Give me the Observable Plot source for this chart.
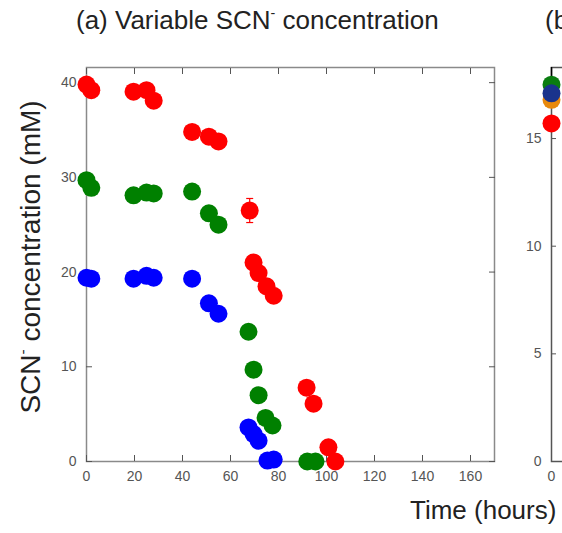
<!DOCTYPE html>
<html>
<head>
<meta charset="utf-8">
<script src="https://cdn.jsdelivr.net/npm/d3@7"></script>
<script src="https://cdn.jsdelivr.net/npm/@observablehq/plot@0.6"></script>
<style>
  body { margin: 0; background: #fff; }
  #fig { position: relative; width: 562px; height: 533px; overflow: hidden; background: #fff;
         font-family: "Liberation Sans", Arial, sans-serif; color: #222; }
  .abs { position: absolute; white-space: nowrap; line-height: 1; }
  .abs svg { display: block; max-width: none !important; }
  sup { font-size: 0.55em; vertical-align: 0.75em; line-height: 0; }
</style>
</head>
<body>
<div id="fig"></div>
<script>
// ---- data ----
const xTicks = [0, 20, 40, 60, 80, 100, 120, 140, 160];
const yTicksA = [0, 10, 20, 30, 40];
const yTicksB = [0, 5, 10, 15];

// Panel (a): 40 mM series (red)
const redTime = [0, 2, 19.6, 25, 28, 44, 51, 55, 68, 69.6, 71.7, 75, 78, 91.7, 94.6, 100.8, 103.7];
const redConc = [39.8, 39.2, 39.05, 39.2, 38.1, 34.8, 34.3, 33.8, 26.5, 21.0, 19.9, 18.5, 17.5, 7.8, 6.1, 1.5, 0];
const redErr  = [0, 0, 0, 0, 0, 0, 0, 0, 1.27, 0, 0, 0, 0, 0, 0, 0, 0];
// 30 mM series (green)
const greenTime = [0, 2, 19.6, 25, 28, 44, 51, 55, 67.5, 69.6, 71.7, 74.6, 77.5, 92, 95.4];
const greenConc = [29.7, 28.9, 28.1, 28.4, 28.3, 28.5, 26.2, 25.0, 13.7, 9.7, 7.0, 4.6, 3.8, 0, 0];
// 20 mM series (blue)
const blueTime = [0, 2, 19.6, 25, 28, 44, 51, 55, 67.5, 69.6, 71.7, 75.4, 78];
const blueConc = [19.4, 19.3, 19.3, 19.6, 19.4, 19.3, 16.7, 15.6, 3.6, 2.9, 2.2, 0.1, 0.2];

// Panel (b): only the first points are visible at the edge
const seriesB = ["black", "green", "orange", "blue", "red"];
const timeB = [0, 0, 0, 0, 0];
const concB = [17.7, 17.5, 16.8, 17.1, 15.7];
const errB  = [0.6, 0, 0.4, 0, 0];

// ---- styling ----
const colors = { red: "#ff0000", green: "#008000", blue: "#0000ff" };
const colorB = { black: "#000000", green: "#0a7d10", orange: "#e8890c", blue: "#1a338c", red: "#ff0000" };
const R = 9;
const cap = { draw(ctx, size) { const r = Math.sqrt(size / Math.PI); ctx.moveTo(-r, 0); ctx.lineTo(r, 0); } };

const rows = (t, c, e) => t.map((v, i) => ({ t: v, c: c[i], e: e ? e[i] : 0 }));
const red = rows(redTime, redConc, redErr);
const green = rows(greenTime, greenConc);
const blue = rows(blueTime, blueConc);
const redE = red.filter(d => d.e > 0);

const baseStyle = { fontFamily: "'Liberation Sans', Arial, sans-serif", fontSize: "14px", color: "#444", background: "transparent", overflow: "visible", maxWidth: "none" };

const plotA = Plot.plot({
  width: 510, height: 490,
  marginLeft: 86, marginRight: 16, marginTop: 67, marginBottom: 29,
  x: { domain: [0, 170] },
  y: { domain: [0, 41.6] },
  style: baseStyle,
  marks: [
    Plot.frame({ stroke: "#8a8a8a", strokeWidth: 1.5 }),
    Plot.axisX(xTicks, { anchor: "bottom", tickSize: -6, tickPadding: 16, label: null, color: "#555" }),
    Plot.axisX(xTicks, { anchor: "top", tickSize: -6, tickFormat: () => "", label: null, color: "#555" }),
    Plot.axisY(yTicksA, { anchor: "left", tickSize: -6, tickPadding: 16, label: null, color: "#555" }),
    Plot.axisY(yTicksA, { anchor: "right", tickSize: -6, tickFormat: () => "", label: null, color: "#555" }),
    Plot.ruleX(redE, { x: "t", y1: d => d.c - d.e, y2: d => d.c + d.e, stroke: colors.red, strokeWidth: 1.2 }),
    Plot.dot(redE, { x: "t", y: d => d.c + d.e, symbol: cap, r: 3.5, stroke: colors.red, strokeWidth: 1.2, fill: "none" }),
    Plot.dot(redE, { x: "t", y: d => d.c - d.e, symbol: cap, r: 3.5, stroke: colors.red, strokeWidth: 1.2, fill: "none" }),
    Plot.dot(red, { x: "t", y: "c", r: R, fill: colors.red, stroke: null }),
    Plot.dot(green, { x: "t", y: "c", r: R, fill: colors.green, stroke: null }),
    Plot.dot(blue, { x: "t", y: "c", r: R, fill: colors.blue, stroke: null })
  ]
});

const rowsB = seriesB.map((s, i) => ({ s, t: timeB[i], c: concB[i], e: errB[i] }));
const errRowsB = rowsB.filter(d => d.e > 0);
const dotRowsB = rowsB.filter(d => d.s !== "black");
const plotB = Plot.plot({
  width: 500, height: 490,
  marginLeft: 60, marginRight: 32, marginTop: 67, marginBottom: 29,
  x: { domain: [0, 170] },
  y: { domain: [0, 18.3] },
  style: baseStyle,
  marks: [
    Plot.frame({ stroke: "#555", strokeWidth: 1.5 }),
    Plot.axisX([0], { anchor: "bottom", tickSize: -6, tickPadding: 16, label: null, color: "#555" }),
    Plot.axisY(yTicksB, { anchor: "left", tickSize: -5, tickPadding: 15, label: null, color: "#555" }),
    Plot.ruleX(errRowsB, { x: "t", y1: d => d.c - d.e, y2: d => d.c + d.e, stroke: d => colorB[d.s], strokeWidth: 1.5 }),
    Plot.dot(dotRowsB, { x: "t", y: "c", r: R, fill: d => colorB[d.s], stroke: null })
  ]
});

const fig = document.getElementById("fig");
function place(node, left, top, width) {
  const w = document.createElement("div");
  w.className = "abs";
  w.style.left = left + "px"; w.style.top = top + "px";
  w.style.width = width + "px";
  node.style.maxWidth = "none";
  node.style.width = width + "px";
  w.appendChild(node);
  fig.appendChild(w);
  return w;
}
place(plotA, 0, 0, 510);
place(plotB, 491, 0, 500);

function text(html, left, top, size) {
  const d = document.createElement("div");
  d.className = "abs";
  d.style.left = left + "px"; d.style.top = top + "px";
  d.style.fontSize = size + "px";
  d.innerHTML = html;
  fig.appendChild(d);
  return d;
}
text("(a) Variable SCN<sup>-</sup> concentration", 76, 7, 26);
text("(b)", 545, 7, 26);
text("Time (hours)", 410, 497, 26);
const yl = text("SCN<sup>-</sup> concentration (mM)", 0, 0, 28);
// rotate and center the y label at (30, 257)
const w = yl.offsetWidth, h = yl.offsetHeight;
yl.style.left = (30 - w / 2) + "px";
yl.style.top = (257 - h / 2) + "px";
yl.style.transform = "rotate(-90deg)";
yl.style.transformOrigin = "50% 50%";
</script>
</body>
</html>
